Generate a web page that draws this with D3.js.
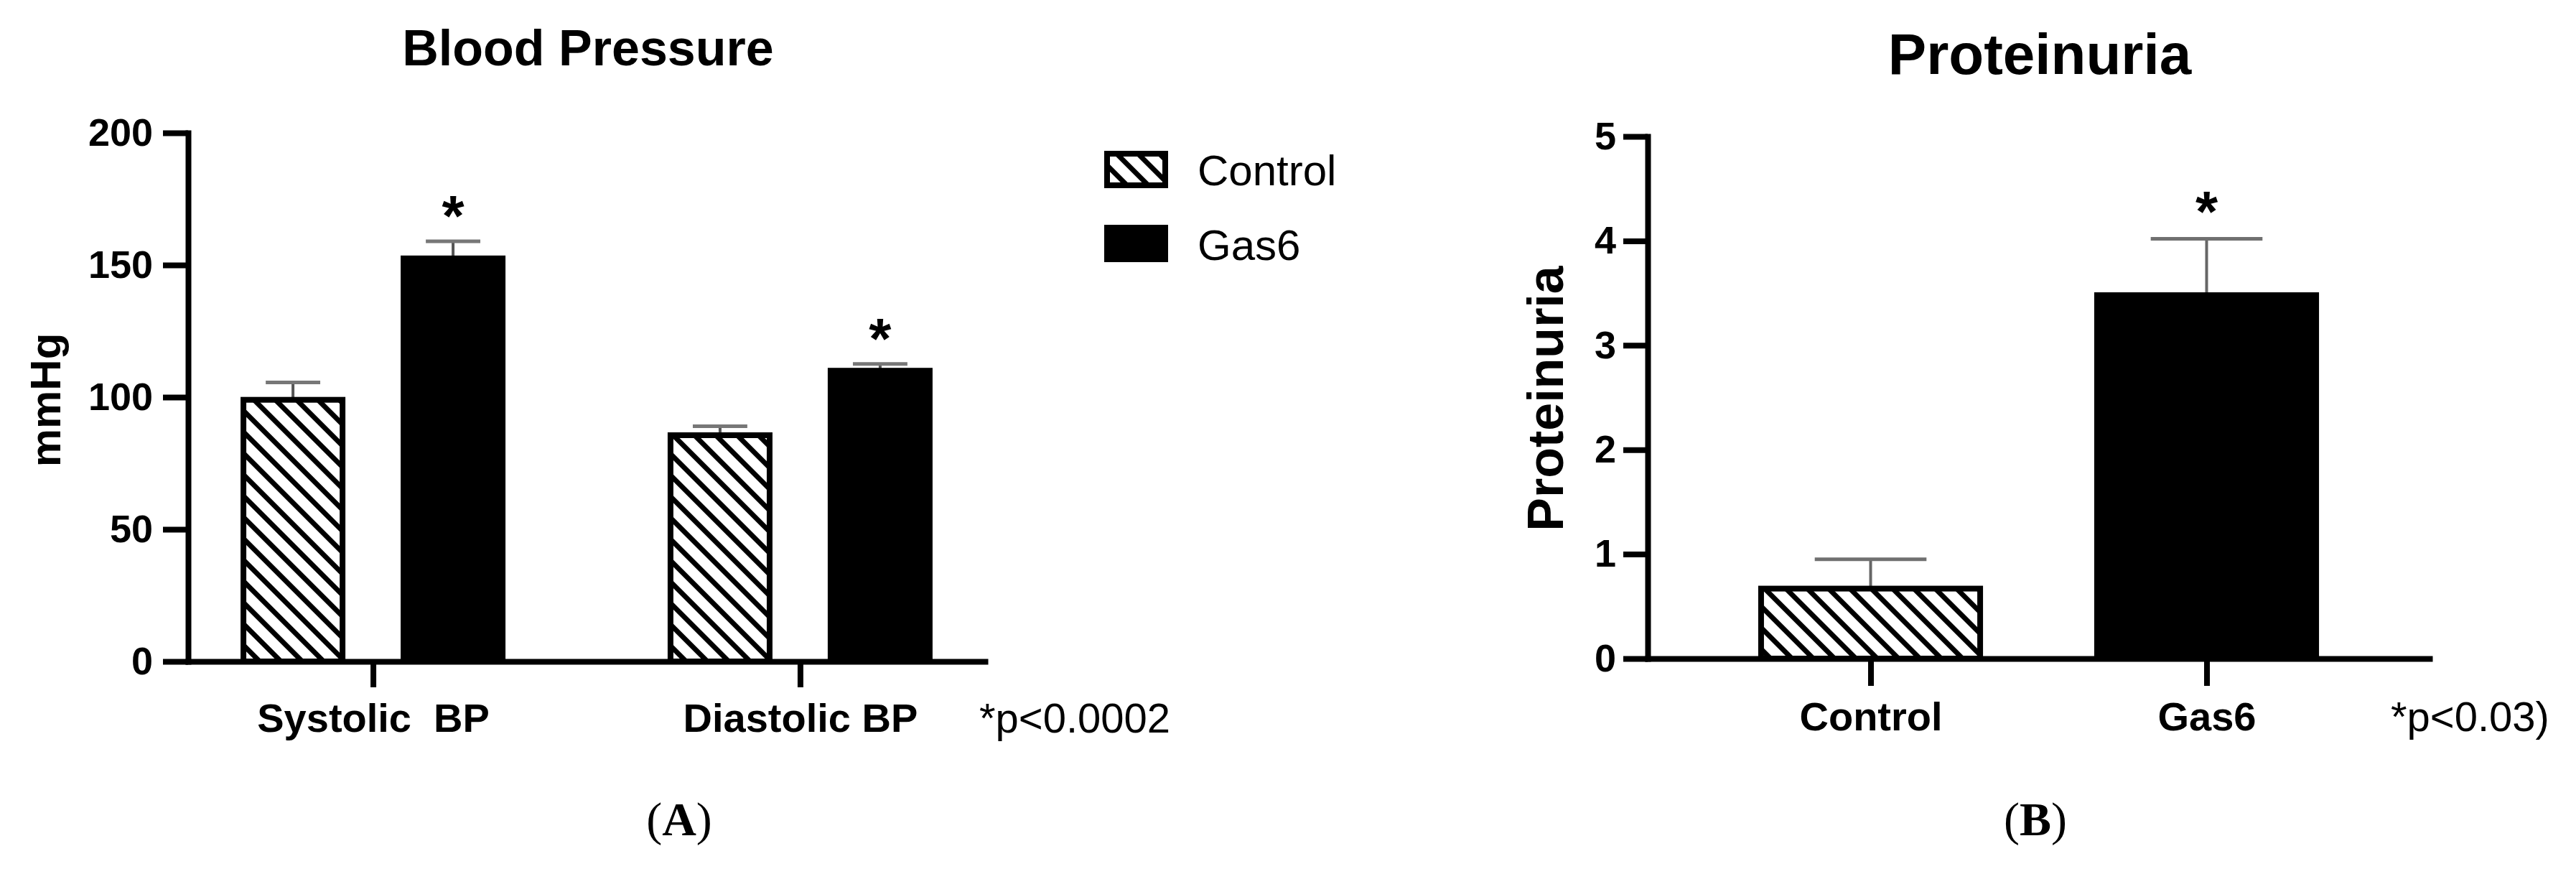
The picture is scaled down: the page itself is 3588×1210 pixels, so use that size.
<!DOCTYPE html>
<html>
<head>
<meta charset="utf-8">
<script src="https://cdn.jsdelivr.net/npm/d3@7"></script>
<style>
  html, body { margin: 0; padding: 0; background: #fff; }
  svg { display: block; }
</style>
</head>
<body>
<svg id="chart" width="3588" height="1210"></svg>
<script>
// ---------- DATA ----------
const groupsA = ["Systolic  BP", "Diastolic BP"];
const seriesNames = ["Control", "Gas6"];
const controlA = [99, 85.6];
const controlErrA = [6.6, 3.4];
const gas6A = [152.5, 110];
const gas6ErrA = [6.5, 2.6];
const ticksA = [0, 50, 100, 150, 200];

const categoriesB = ["Control", "Gas6"];
const valuesB = [0.67, 3.48];
const errorsB = [0.28, 0.54];
const ticksB = [0, 1, 2, 3, 4, 5];

const titleA = "Blood Pressure";
const titleB = "Proteinuria";
const yTitleA = "mmHg";
const yTitleB = "Proteinuria";
const noteA = "*p<0.0002";
const noteB = "*p<0.03)";

// ---------- SETUP ----------
const SANS = "'Liberation Sans', Arial, Helvetica, sans-serif";
const SERIF = "'Liberation Serif', 'Times New Roman', serif";
const svg = d3.select("#chart");
svg.append("rect").attr("width", 3588).attr("height", 1210).attr("fill", "#fff");

const defs = svg.append("defs");
const pat = defs.append("pattern")
  .attr("id", "hatch")
  .attr("patternUnits", "userSpaceOnUse")
  .attr("width", 21).attr("height", 21)
  .attr("patternTransform", "rotate(-45)");
pat.append("rect").attr("width", 21).attr("height", 21).attr("fill", "#fff");
pat.append("rect").attr("width", 7).attr("height", 21).attr("fill", "#000");

const fillFor = s => s === "Control" ? "url(#hatch)" : "#000";
const AXW = 8;

function styleAxis(g, fontSize) {
  g.select(".domain").attr("stroke", "#000").attr("stroke-width", AXW).attr("stroke-linecap", "square");
  g.selectAll(".tick line").attr("stroke", "#000").attr("stroke-width", AXW);
  g.selectAll(".tick text")
    .attr("fill", "#000")
    .style("font-family", SANS)
    .style("font-weight", "bold")
    .style("font-size", fontSize + "px")
    .style("white-space", "pre");
}

// ---------- PANEL A ----------
const yA = d3.scaleLinear().domain([0, 200]).range([921, 185]);
const xA = d3.scalePoint().domain(groupsA).range([262, 1372]).padding(0.433);
const x1 = d3.scaleBand().domain(seriesNames).range([-180.5, 180.5]).paddingInner(0.381);

const rowsA = [];
groupsA.forEach((g, i) => {
  rowsA.push({ group: g, series: "Control", value: controlA[i], err: controlErrA[i] });
  rowsA.push({ group: g, series: "Gas6", value: gas6A[i], err: gas6ErrA[i] });
});

const gA = svg.append("g");
const bw = x1.bandwidth();

const ebA = gA.selectAll(".ebA").data(rowsA).enter().append("g");
ebA.append("line")
  .attr("x1", d => xA(d.group) + x1(d.series) + bw / 2)
  .attr("x2", d => xA(d.group) + x1(d.series) + bw / 2)
  .attr("y1", d => yA(d.value))
  .attr("y2", d => yA(d.value + d.err))
  .attr("stroke", "#555").attr("stroke-width", 4);
ebA.append("line")
  .attr("x1", d => xA(d.group) + x1(d.series) + bw / 2 - bw * 0.275)
  .attr("x2", d => xA(d.group) + x1(d.series) + bw / 2 + bw * 0.275)
  .attr("y1", d => yA(d.value + d.err))
  .attr("y2", d => yA(d.value + d.err))
  .attr("stroke", "#777").attr("stroke-width", 5);

gA.selectAll(".barA").data(rowsA).enter().append("rect")
  .attr("x", d => xA(d.group) + x1(d.series))
  .attr("width", bw)
  .attr("y", d => yA(d.value))
  .attr("height", d => yA(0) - yA(d.value))
  .attr("fill", d => fillFor(d.series))
  .attr("stroke", "#000")
  .attr("stroke-width", AXW);

gA.selectAll(".starA").data(rowsA.filter(d => d.series === "Gas6")).enter().append("text")
  .attr("x", d => xA(d.group) + x1(d.series) + bw / 2)
  .attr("y", d => yA(d.value + d.err) - 8)
  .attr("text-anchor", "middle")
  .style("font-family", SANS).style("font-weight", "bold").style("font-size", "80px")
  .text("*");

const yAxisA = gA.append("g").attr("transform", "translate(262,0)")
  .call(d3.axisLeft(yA).tickValues(ticksA).tickFormat(d3.format("d")).tickSize(35).tickSizeOuter(0).tickPadding(14));
styleAxis(yAxisA, 54);

const xAxisA = gA.append("g").attr("transform", `translate(0,${yA(0)})`)
  .call(d3.axisBottom(xA).tickSize(36).tickSizeOuter(0).tickPadding(22));
styleAxis(xAxisA, 56);

gA.append("text").attr("x", 819).attr("y", 91).attr("text-anchor", "middle")
  .style("font-family", SANS).style("font-weight", "bold").style("font-size", "70px")
  .text(titleA);
gA.append("text").attr("transform", "translate(84,557) rotate(-90)").attr("text-anchor", "middle")
  .style("font-family", SANS).style("font-weight", "bold").style("font-size", "60px")
  .text(yTitleA);
gA.append("text").attr("x", 1364).attr("y", 1020)
  .style("font-family", SANS).style("font-size", "58px")
  .text(noteA);
const labA = gA.append("text").attr("x", 946).attr("y", 1163).attr("text-anchor", "middle")
  .style("font-family", SERIF).style("font-size", "66px");
labA.append("tspan").text("(");
labA.append("tspan").style("font-weight", "bold").text("A");
labA.append("tspan").text(")");

// legend
const legend = svg.append("g");
seriesNames.forEach((s, i) => {
  legend.append("rect")
    .attr("x", 1542).attr("y", 214 + i * 103)
    .attr("width", 81).attr("height", 44)
    .attr("fill", fillFor(s)).attr("stroke", "#000").attr("stroke-width", AXW);
  legend.append("text")
    .attr("x", 1668).attr("y", 258 + i * 104)
    .style("font-family", SANS).style("font-size", "60px")
    .text(s);
});

// ---------- PANEL B ----------
const yB = d3.scaleLinear().domain([0, 5]).range([917, 190]);
const xB = d3.scalePoint().domain(categoriesB).range([2295, 3384]).padding(0.6635);
const bwB = xB.step() * 0.652;
const rowsB = categoriesB.map((c, i) => ({ cat: c, value: valuesB[i], err: errorsB[i] }));

const gB = svg.append("g");
const ebB = gB.selectAll(".ebB").data(rowsB).enter().append("g");
ebB.append("line")
  .attr("x1", d => xB(d.cat)).attr("x2", d => xB(d.cat))
  .attr("y1", d => yB(d.value)).attr("y2", d => yB(d.value + d.err))
  .attr("stroke", "#666").attr("stroke-width", 4);
ebB.append("line")
  .attr("x1", d => xB(d.cat) - bwB * 0.255).attr("x2", d => xB(d.cat) + bwB * 0.255)
  .attr("y1", d => yB(d.value + d.err)).attr("y2", d => yB(d.value + d.err))
  .attr("stroke", "#707070").attr("stroke-width", 5);

gB.selectAll(".barB").data(rowsB).enter().append("rect")
  .attr("x", d => xB(d.cat) - bwB / 2)
  .attr("width", bwB)
  .attr("y", d => yB(d.value))
  .attr("height", d => yB(0) - yB(d.value))
  .attr("fill", d => fillFor(d.cat))
  .attr("stroke", "#000").attr("stroke-width", AXW);

gB.selectAll(".starB").data(rowsB.filter(d => d.cat === "Gas6")).enter().append("text")
  .attr("x", d => xB(d.cat))
  .attr("y", d => yB(d.value + d.err) - 10)
  .attr("text-anchor", "middle")
  .style("font-family", SANS).style("font-weight", "bold").style("font-size", "80px")
  .text("*");

const yAxisB = gB.append("g").attr("transform", "translate(2295,0)")
  .call(d3.axisLeft(yB).tickValues(ticksB).tickFormat(d3.format("d")).tickSize(34).tickSizeOuter(0).tickPadding(10));
styleAxis(yAxisB, 54);

const xAxisB = gB.append("g").attr("transform", `translate(0,${yB(0)})`)
  .call(d3.axisBottom(xB).tickSize(38).tickSizeOuter(0).tickPadding(22));
styleAxis(xAxisB, 56);

gB.append("text").attr("x", 2841).attr("y", 103).attr("text-anchor", "middle")
  .style("font-family", SANS).style("font-weight", "bold").style("font-size", "80px")
  .text(titleB);
gB.append("text").attr("transform", "translate(2177,555) rotate(-90)").attr("text-anchor", "middle")
  .style("font-family", SANS).style("font-weight", "bold").style("font-size", "70px")
  .text(yTitleB);
gB.append("text").attr("x", 3330).attr("y", 1018)
  .style("font-family", SANS).style("font-size", "58px")
  .text(noteB);
const labB = gB.append("text").attr("x", 2835).attr("y", 1163).attr("text-anchor", "middle")
  .style("font-family", SERIF).style("font-size", "66px");
labB.append("tspan").text("(");
labB.append("tspan").style("font-weight", "bold").text("B");
labB.append("tspan").text(")");
</script>
</body>
</html>
